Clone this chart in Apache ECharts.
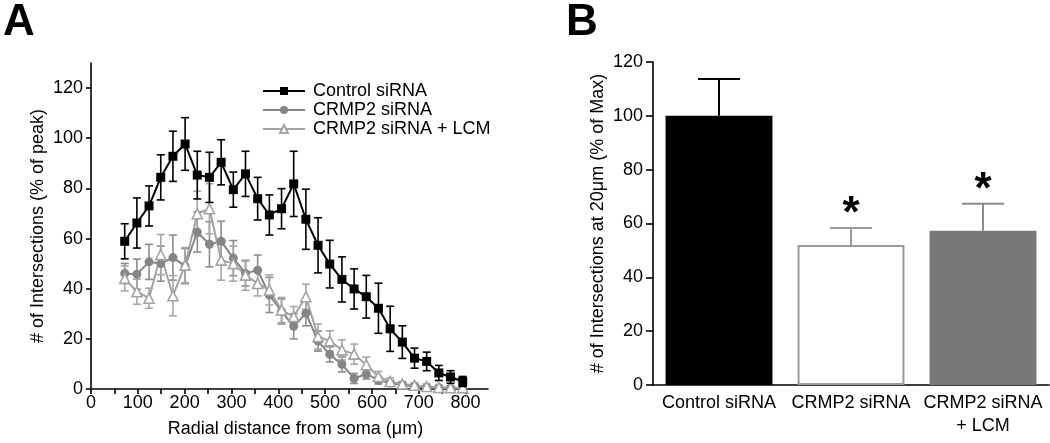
<!DOCTYPE html>
<html><head><meta charset="utf-8">
<script src="https://cdn.jsdelivr.net/npm/echarts@6/dist/echarts.min.js"></script>
<style>html,body{margin:0;padding:0;background:#fff}#c{width:1050px;height:443px}</style>
</head><body><div id="c"></div>
<script>
// ---- Panel A data ----
const radial = [72, 98, 124, 149, 175, 201, 227, 253, 278, 304, 330, 356, 381, 407, 433, 459, 485, 510, 536, 562, 588, 614, 639, 665, 691, 717, 743, 768, 794];
const ctrlMean = [58.9, 66.2, 73, 84.4, 92.8, 97.7, 85.3, 84.4, 90.4, 79.5, 85.8, 75.9, 69.4, 71.9, 81.8, 67.7, 57.3, 49.8, 43.7, 39.9, 36.8, 32.2, 24, 18.7, 12.3, 11, 6.4, 4.8, 3];
const ctrlErr  = [7, 10, 8, 9, 10, 10.5, 9.5, 10, 9, 7, 9, 8.5, 8, 8, 13, 12, 11, 9.5, 9, 8, 8.5, 10, 9, 6.5, 4, 3.7, 3, 2.5, 2];
const crmpMean = [46.1, 45.8, 50.7, 50, 52.4, 49, 62.6, 57.7, 58.9, 52.2, 46.1, 47.4, 37.5, 30.9, 25, 30.2, 19.1, 13.8, 9.8, 4.2, 6, 3.5, 2.4, 1.6, 1, 0.6, 0.5, 0.4, 0.3];
const crmpErr  = [4, 6, 7, 7, 9, 7, 8, 9, 8, 7, 5, 6, 7, 5, 5, 5, 4, 3, 3, 2, 2, 1.5, 1, 1, 0.8, 0.5, 0.5, 0.5, 0.5];
const lcmMean  = [44.1, 38.8, 36.2, 53.6, 37.2, 49.4, 69.9, 71.9, 51.4, 50, 45.4, 42.1, 39.5, 31.5, 28.9, 36.8, 20.9, 19.2, 15.6, 13.9, 9.7, 5, 3, 2, 1.5, 1, 0.6, 0.5, 0.5];
const lcmErr   = [5, 5, 4, 8, 8, 7, 9, 10, 8, 7, 6, 5, 6, 5, 4, 5, 5, 4, 4, 4, 3, 2, 1.5, 1, 1, 1, 0.8, 0.5, 0.5];
const seriesNames = ['Control siRNA', 'CRMP2 siRNA', 'CRMP2 siRNA + LCM'];
const xTickValsA = [0, 50, 100, 150, 200, 250, 300, 350, 400, 450, 500, 550, 600, 650, 700, 750, 800];
const xLabelValsA = [0, 100, 200, 300, 400, 500, 600, 700, 800];
const yTickValsA = [0, 20, 40, 60, 80, 100, 120];

// ---- Panel B data ----
const groups = ['Control siRNA', 'CRMP2 siRNA', 'CRMP2 siRNA\n+ LCM'];
const barMean = [100, 52, 57.3];
const barErr = [13.7, 6.3, 10];
const sigMark = ['', '*', '*'];

const FONT = '"Liberation Sans", Arial, sans-serif';
const chart = echarts.init(document.getElementById('c'));

function errSeries(xs, means, errs, color, z) {
  return {
    type: 'custom', xAxisIndex: 0, yAxisIndex: 0, z: z, silent: true,
    data: xs.map((x, i) => [x, means[i], errs[i]]),
    renderItem: (p, api) => {
      const x = api.value(0), m = api.value(1), e = api.value(2);
      const top = api.coord([x, m + e]), bot = api.coord([x, Math.max(0, m - e)]);
      const hw = 4, st = {stroke: color, lineWidth: 1.6};
      return {type: 'group', children: [
        {type: 'line', shape: {x1: top[0], y1: top[1], x2: bot[0], y2: bot[1]}, style: st},
        {type: 'line', shape: {x1: top[0] - hw, y1: top[1], x2: top[0] + hw, y2: top[1]}, style: st},
        {type: 'line', shape: {x1: bot[0] - hw, y1: bot[1], x2: bot[0] + hw, y2: bot[1]}, style: st}
      ]};
    }
  };
}

const axisLineStyle = {color: '#000', width: 1.6};
const labelStyle = {color: '#000', fontSize: 18, fontFamily: FONT};
const barColors = ['#000000', '#ffffff', '#787878'];
const barBorders = ['#000000', '#9a9a9a', '#787878'];
const errColors = ['#000000', '#9a9a9a', '#8a8a8a'];

chart.setOption({
  animation: false,
  backgroundColor: '#fff',
  graphic: [
    {type: 'text', left: 3, top: 1, style: {text: 'A', font: 'bold 44px ' + FONT, fill: '#000'}},
    {type: 'text', left: 566, top: 1, style: {text: 'B', font: 'bold 44px ' + FONT, fill: '#000'}}
  ],
  legend: {
    orient: 'vertical', left: 257, top: 77, itemWidth: 42, itemHeight: 10, itemGap: 1,
    data: seriesNames,
    textStyle: {color: '#000', fontSize: 18, fontFamily: FONT, padding: [0, 0, 0, 3]}
  },
  grid: [
    {left: 91, top: 63, width: 397, height: 328},
    {left: 653, top: 62, width: 396, height: 323}
  ],
  xAxis: [
    {type: 'value', gridIndex: 0, min: 0, max: 848, interval: 50,
     axisLine: {show: true, lineStyle: axisLineStyle},
     axisTick: {show: true, length: 5, customValues: xTickValsA, lineStyle: axisLineStyle},
     axisLabel: Object.assign({customValues: xLabelValsA, margin: 5}, labelStyle),
     splitLine: {show: false},
     name: 'Radial distance from soma (\u03bcm)', nameLocation: 'middle', nameGap: 31,
     nameTextStyle: {color: '#000', fontSize: 18, fontFamily: FONT, padding: [0, 0, 0, 12]}},
    {type: 'category', gridIndex: 1, data: groups,
     axisLine: {show: true, lineStyle: axisLineStyle},
     axisTick: {show: false},
     axisLabel: Object.assign({interval: 0, margin: 7, lineHeight: 23}, labelStyle)}
  ],
  yAxis: [
    {type: 'value', gridIndex: 0, min: 0, max: 130, interval: 10,
     axisLine: {show: true, lineStyle: axisLineStyle},
     axisTick: {show: true, length: 5, customValues: yTickValsA, lineStyle: axisLineStyle},
     axisLabel: Object.assign({customValues: yTickValsA, margin: 8}, labelStyle),
     splitLine: {show: false},
     name: '# of Intersections (% of peak)', nameLocation: 'middle', nameGap: 44, nameRotate: 90,
     nameTextStyle: {color: '#000', fontSize: 18, fontFamily: FONT}},
    {type: 'value', gridIndex: 1, min: 0, max: 120, interval: 20,
     axisLine: {show: true, lineStyle: axisLineStyle},
     axisTick: {show: true, length: 7, lineStyle: axisLineStyle},
     axisLabel: Object.assign({margin: 10}, labelStyle),
     splitLine: {show: false},
     name: '# of Intersections at 20\u03bcm (% of Max)', nameLocation: 'middle', nameGap: 46, nameRotate: 90,
     nameTextStyle: {color: '#000', fontSize: 18, fontFamily: FONT}}
  ],
  series: [
    errSeries(radial, crmpMean, crmpErr, '#8c8c8c', 2),
    errSeries(radial, lcmMean, lcmErr, '#a6a6a6', 2),
    errSeries(radial, ctrlMean, ctrlErr, '#000000', 4),
    {type: 'line', name: seriesNames[1], xAxisIndex: 0, yAxisIndex: 0, z: 3,
     data: radial.map((x, i) => [x, crmpMean[i]]),
     symbol: 'circle', symbolSize: 9,
     lineStyle: {color: '#858585', width: 2}, itemStyle: {color: '#858585'}},
    {type: 'line', name: seriesNames[2], xAxisIndex: 0, yAxisIndex: 0, z: 3,
     data: radial.map((x, i) => [x, lcmMean[i]]),
     symbol: 'triangle', symbolSize: 10,
     lineStyle: {color: '#a3a3a3', width: 2}, itemStyle: {color: '#ffffff', borderColor: '#a3a3a3', borderWidth: 1.6}},
    {type: 'line', name: seriesNames[0], xAxisIndex: 0, yAxisIndex: 0, z: 5,
     data: radial.map((x, i) => [x, ctrlMean[i]]),
     symbol: 'rect', symbolSize: 9,
     lineStyle: {color: '#000', width: 2}, itemStyle: {color: '#000'}},
    {type: 'bar', xAxisIndex: 1, yAxisIndex: 1, barWidth: '81%', z: 2,
     data: barMean.map((v, i) => ({value: v, itemStyle: {color: barColors[i], borderColor: barBorders[i], borderWidth: i === 1 ? 2 : 0}}))},
    {type: 'custom', xAxisIndex: 1, yAxisIndex: 1, z: 3, silent: true,
     data: barMean.map((v, i) => [i, v, barErr[i]]),
     renderItem: (p, api) => {
       const i = api.value(0), m = api.value(1), e = api.value(2);
       const base = api.coord([i, m]), top = api.coord([i, m + e]);
       const st = {stroke: errColors[i], lineWidth: 2};
       const hw = 21;
       const ch = [
         {type: 'line', shape: {x1: base[0], y1: base[1], x2: top[0], y2: top[1]}, style: st},
         {type: 'line', shape: {x1: top[0] - hw, y1: top[1], x2: top[0] + hw, y2: top[1]}, style: st}
       ];
       if (sigMark[i]) {
         ch.push({type: 'text', x: top[0], y: top[1] + 9,
           style: {text: sigMark[i], font: 'bold 44px ' + FONT, fill: '#000', align: 'center', verticalAlign: 'bottom'}});
       }
       return {type: 'group', children: ch};
     }}
  ]
});
</script></body></html>
